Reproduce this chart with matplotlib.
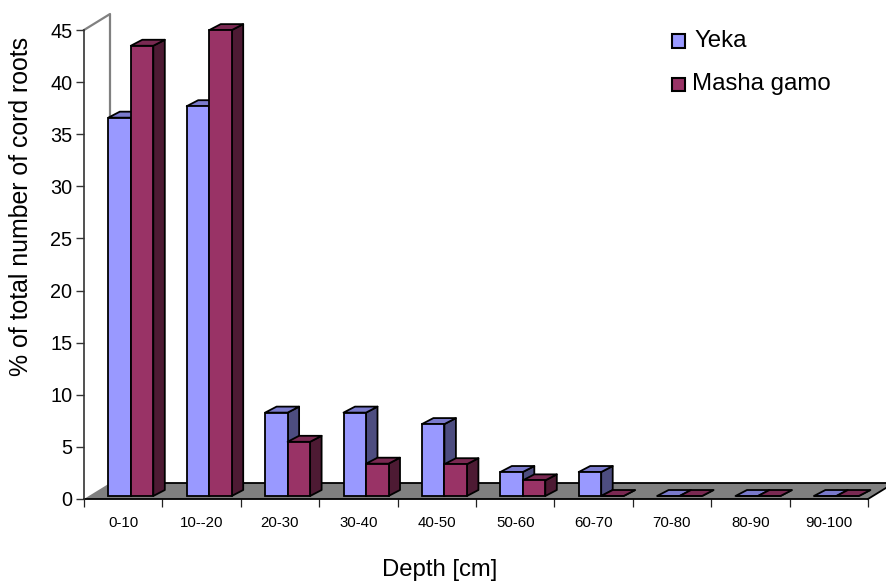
import matplotlib
matplotlib.use("Agg")
import matplotlib.pyplot as plt
from matplotlib.patches import Polygon, Rectangle

plt.rcParams['font.family'] = ['Liberation Sans', 'DejaVu Sans']

depths = ['0-10', '10--20', '20-30', '30-40', '40-50', '50-60', '60-70', '70-80', '80-90', '90-100']
yeka = [36.3, 37.4, 8.0, 8.0, 6.9, 2.3, 2.3, 0, 0, 0]
masha = [43.2, 44.7, 5.2, 3.1, 3.05, 1.5, 0, 0, 0, 0]
yticks = [0, 5, 10, 15, 20, 25, 30, 35, 40, 45]

W, H = 887, 583
x0, x1, ytop, ybot = 84, 868, 30, 499

fig = plt.figure(figsize=(W / 100, H / 100), dpi=100)
ax = fig.add_axes([x0 / W, 1 - ybot / H, (x1 - x0) / W, (ybot - ytop) / H])
ax.set_xlim(0, 10)
ax.set_ylim(0, 45)

# pixel sizes turned into data units
ux = 10 / (x1 - x0)
uy = 45 / (ybot - ytop)
wall_dx, wall_dy = 26 * ux, 16 * uy
bar_dx, bar_dy = 11.5 * ux, 6 * uy
bar_w = 22.5 * ux
bar_off = 24.3 * ux
base = 3 * uy

lw = 1.3
# floor and back wall edge
ax.add_patch(Polygon([(0, 0), (10, 0), (10 + wall_dx, wall_dy), (wall_dx, wall_dy)],
                     closed=True, fc='#808080', ec='none', clip_on=False, zorder=1))
ax.plot([0, 10], [0, 0], color='black', lw=lw, clip_on=False, zorder=2)
ax.plot([wall_dx, 10 + wall_dx], [wall_dy, wall_dy], color='black', lw=lw, clip_on=False, zorder=2)
ax.plot([10, 10 + wall_dx], [0, wall_dy], color='black', lw=lw, clip_on=False, zorder=2)
ax.plot([0, wall_dx, wall_dx], [45, 45 + wall_dy, wall_dy], color='#808080', lw=1.6,
        clip_on=False, zorder=1)


def bar3d(x, v, front, top, side, z):
    y0, y1 = base, base + v
    kw = dict(closed=True, ec='black', lw=lw, clip_on=False, zorder=z, joinstyle='round')
    ax.add_patch(Polygon([(x + bar_w, y0), (x + bar_w + bar_dx, y0 + bar_dy),
                          (x + bar_w + bar_dx, y1 + bar_dy), (x + bar_w, y1)], fc=side, **kw))
    ax.add_patch(Polygon([(x, y1), (x + bar_w, y1), (x + bar_w + bar_dx, y1 + bar_dy),
                          (x + bar_dx, y1 + bar_dy)], fc=top, **kw))
    ax.add_patch(Rectangle((x, y0), bar_w, v, fc=front, ec='black', lw=lw, clip_on=False, zorder=z))


for i in range(len(depths)):
    bar3d(i + bar_off, yeka[i], '#9999FF', '#7A7ACC', '#4D4D80', 3 + i * 2)
    bar3d(i + bar_off + bar_w, masha[i], '#993366', '#7A2952', '#4D1A33', 4 + i * 2)

for s in ['top', 'right']:
    ax.spines[s].set_visible(False)
ax.spines['bottom'].set_visible(False)
ax.spines['left'].set_color('#333333')
ax.spines['left'].set_linewidth(1.2)
ax.patch.set_alpha(0)

ax.set_yticks(yticks)
ax.tick_params(axis='y', labelsize=14.3, length=5.8, width=1, pad=2.5, color='#333333')
ax.set_xticks(range(11))
ax.set_xticks([i + 0.5 for i in range(10)], minor=True)
ax.set_xticklabels([])
ax.set_xticklabels(depths, minor=True)
ax.tick_params(axis='x', which='major', length=5.8, width=0.9, color='#222222')
ax.tick_params(axis='x', which='minor', length=0, labelsize=10.8, pad=12.5)

fig.text(439.5 / W, 1 - 570 / H, 'Depth [cm]', fontsize=17.2, ha='center', va='center')
fig.text(21 / W, 1 - 206 / H, '% of total number of cord roots', fontsize=17.9, rotation=90,
         ha='center', va='center')

# legend
names = ['Yeka', 'Masha gamo']
colors = ['#9999FF', '#993366']
for n, c, yc, tx in zip(names, colors, [41, 84], [694, 692]):
    fig.add_artist(Rectangle((672.5 / W, 1 - (yc + 6.5) / H), 13 / W, 13 / H, fc=c, ec='black', lw=1.5,
                             transform=fig.transFigure))
    fig.text(tx / W, 1 - yc / H, n, fontsize=17.3, ha='left', va='center')

fig.savefig('out.png', dpi=100)
